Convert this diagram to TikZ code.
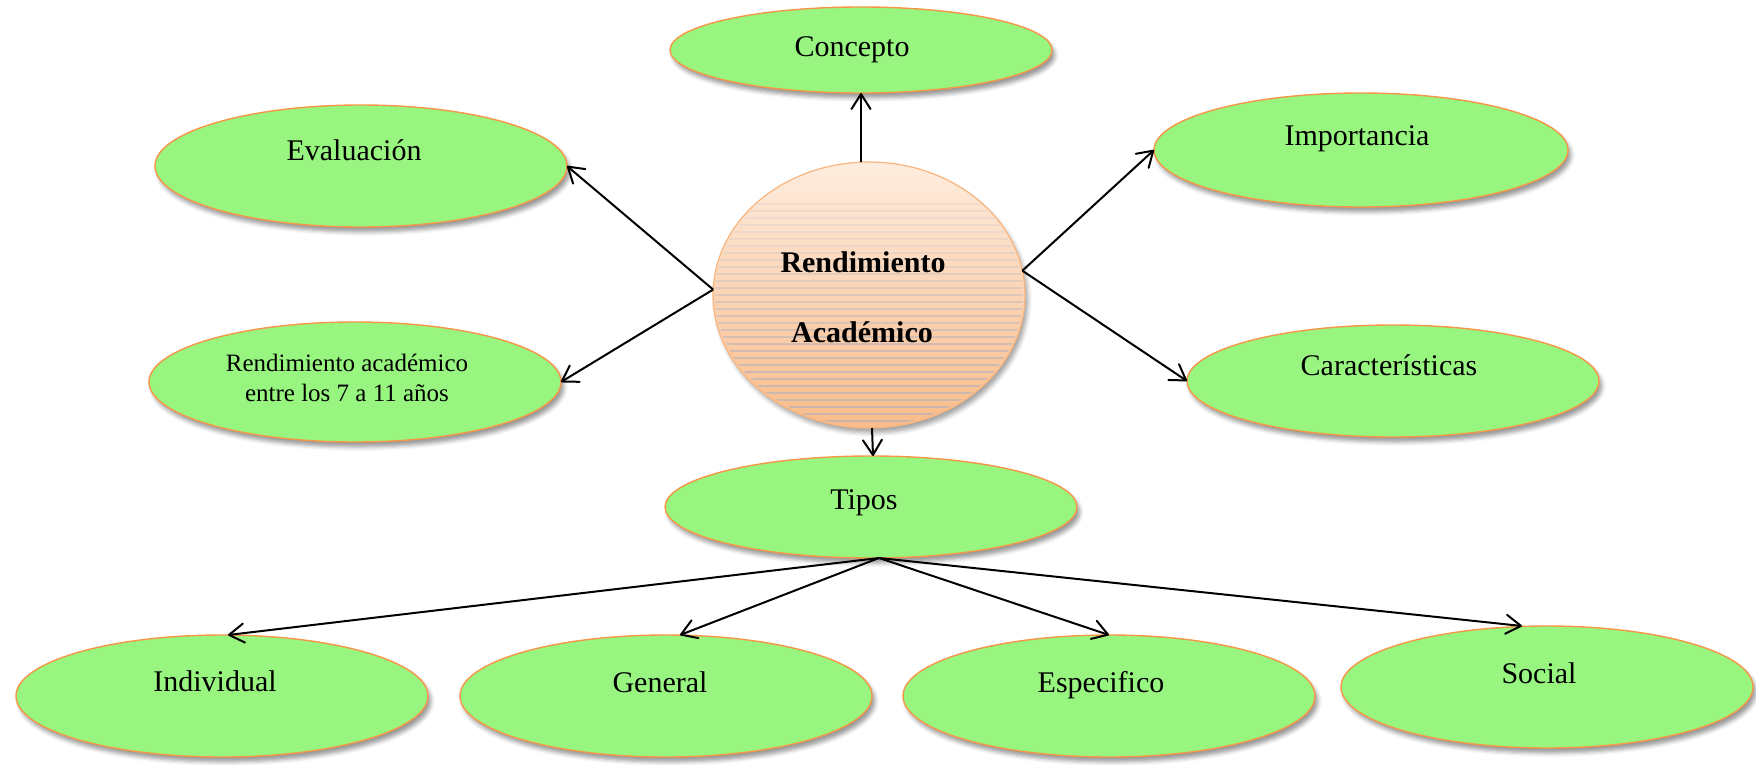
\documentclass[tikz,border=0pt]{standalone}
\usepackage{fontspec}
\setmainfont{Liberation Serif}
\usetikzlibrary{shapes.geometric,arrows.meta,shadows.blur}
\definecolor{leaf}{RGB}{152,246,128}
\definecolor{rim}{RGB}{247,150,70}
\definecolor{peachtop}{RGB}{253,236,222}
\definecolor{peachbot}{RGB}{250,188,138}
\definecolor{stripe}{RGB}{165,175,195}
\tikzset{
  oval/.style={ellipse, draw=rim, line width=0.7pt, fill=leaf, inner sep=0pt, outer sep=0pt,
    blur shadow={shadow xshift=1.5pt, shadow yshift=-2.5pt, shadow blur radius=2pt, shadow opacity=40}},
  lbl/.style={anchor=base, font=\fontsize{15}{18}\selectfont, inner sep=0pt},
  link/.style={line width=1pt, -{Straight Barb[length=7.5pt,width=9.5pt,round]}},
}
\begin{document}
\begin{tikzpicture}[x=0.5pt,y=-0.5pt]
\useasboundingbox (0,0) rectangle (1756,765);

% central circle
\node[ellipse, draw=rim!70, line width=0.6pt, inner sep=0pt, outer sep=0pt,
      minimum width=156pt, minimum height=133pt,
      top color=peachtop, bottom color=peachbot,
      blur shadow={shadow xshift=1.5pt, shadow yshift=-2.5pt, shadow blur radius=2pt, shadow opacity=35}]
      (circ) at (869,295) {};
\begin{scope}
  \clip (869,295) ellipse [x radius=154, y radius=131];
  \foreach \yy in {204,211,...,424}{
    \pgfmathsetmacro{\op}{min(0.55,max(0.15,(\yy-190)/330))}
    \draw[stripe, line width=0.6pt, opacity=\op] (700,\yy) -- (1040,\yy);
  }
\end{scope}
\node[lbl, font=\fontsize{15}{18}\selectfont\bfseries] (rt1) at (863,272) {Rendimiento};
\node[lbl, font=\fontsize{15}{18}\selectfont\bfseries] (rt2) at (862,342) {Académico};

% outer ellipses
\node[oval, minimum width=191pt, minimum height=43pt] (con) at (861,50) {};
\node[lbl] (conT) at (852,57) {Concepto};

\node[oval, minimum width=206pt, minimum height=61pt] (ev) at (361,166) {};
\node[lbl] (evT) at (354,161) {Evaluación};

\node[oval, minimum width=206pt, minimum height=60pt] (ram) at (355,382) {};
\node[lbl, font=\fontsize{12.5}{15}\selectfont] (ramT1) at (347,371) {Rendimiento académico};
\node[lbl, font=\fontsize{12.5}{15}\selectfont] (ramT2) at (347,401) {entre los 7 a 11 años};

\node[oval, minimum width=207pt, minimum height=57pt] (imp) at (1361,150) {};
\node[lbl] (impT) at (1357,146) {Importancia};

\node[oval, minimum width=206pt, minimum height=56pt] (car) at (1393,381) {};
\node[lbl] (carT) at (1389,375) {Características};

\node[oval, minimum width=206pt, minimum height=51pt] (tip) at (871,507) {};
\node[lbl] (tipT) at (864,509) {Tipos};

\node[oval, minimum width=206pt, minimum height=61pt] (ind) at (222,696) {};
\node[lbl] (indT) at (215,691) {Individual};

\node[oval, minimum width=206pt, minimum height=61pt] (gen) at (666,696) {};
\node[lbl] (genT) at (660,692) {General};

\node[oval, minimum width=206pt, minimum height=61pt] (esp) at (1109,696) {};
\node[lbl] (espT) at (1101,692) {Especifico};

\node[oval, minimum width=206pt, minimum height=61pt] (soc) at (1547,687) {};
\node[lbl] (socT) at (1539,683) {Social};

% connectors
\draw[link] ([xshift=-4pt]circ.north) -- (con.south);
\draw[link] (circ.178) -- (ev.east);
\draw[link] (circ.178) -- (ram.east);
\draw[link] (circ.9) -- (imp.west);
\draw[link] (circ.9) -- (car.west);
\draw[link] ([xshift=1.5pt]circ.south) -- ([xshift=1pt]tip.north);
\draw[link] ([xshift=4pt]tip.south) -- ([xshift=3pt]ind.north);
\draw[link] ([xshift=4pt]tip.south) -- ([xshift=7pt]gen.north);
\draw[link] ([xshift=4pt]tip.south) -- (esp.north);
\draw[link] ([xshift=4pt]tip.south) -- ([xshift=-12.5pt]soc.north);
\end{tikzpicture}
\end{document}
